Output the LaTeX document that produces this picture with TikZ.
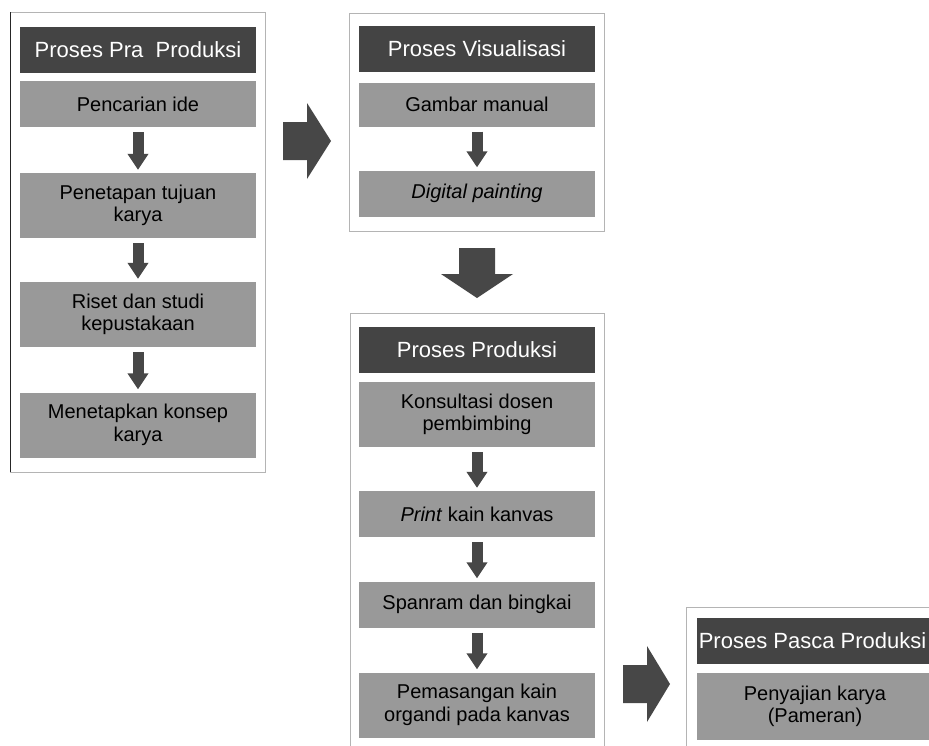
\documentclass[tikz,border=0pt]{standalone}
\usepackage{fontspec}
\setmainfont{Liberation Sans}
\usetikzlibrary{arrows.meta}
\definecolor{hdr}{HTML}{444444}
\definecolor{cell}{HTML}{999999}
\definecolor{arr}{HTML}{474747}
\definecolor{frame}{HTML}{B4B4B4}
\tikzset{
 hdrbox/.style={fill=hdr, text=white, minimum width=236pt, minimum height=46pt, inner sep=0pt, font=\fontsize{22}{26}\selectfont},
 cellbox/.style={fill=cell, text=black, minimum width=236pt, inner sep=0pt, align=center, font=\fontsize{20}{22.5}\selectfont},
 one/.style={minimum height=46pt},
 two/.style={minimum height=65pt},
 smallarr/.style={draw=arr, line width=11pt, -{Triangle[width=20pt,length=16pt]}, shorten <=5pt, shorten >=3pt},
 frm/.style={draw=frame, line width=1pt, fill=white},
 bigarr/.style={fill=arr},
}
\begin{document}
\begin{tikzpicture}[x=1pt,y=-1pt]
\useasboundingbox (0,0) rectangle (929,745);
\clip (0,0) rectangle (929,745);

% ---------- Pre-production ----------
\draw[frm] (10,12) rectangle (265,472);
\draw[black!85, line width=1pt] (10,12) -- (10,472);
\node[hdrbox] (pt) at (138,50) {Proses Pra~~Produksi};
\node[cellbox,one] (p1) at (138,104) {Pencarian ide};
\node[cellbox,two] (p2) at (138,205.5) {Penetapan tujuan\\karya};
\node[cellbox,two] (p3) at (138,314.5) {Riset dan studi\\kepustakaan};
\node[cellbox,two] (p4) at (138,425) {Menetapkan konsep\\karya};
\draw[smallarr] (p1) -- (p2);
\draw[smallarr] (p2) -- (p3);
\draw[smallarr] (p3) -- (p4);

% ---------- Visualisation ----------
\draw[frm] (349,13) rectangle (604,231);
\node[hdrbox] (vt) at (477,48.5) {Proses Visualisasi};
\node[cellbox,minimum height=44pt] (v1) at (477,104.5) {Gambar manual};
\node[cellbox,one] (v2) at (477,193.5) {\textit{Digital painting}};
\draw[smallarr] (v1) -- (v2);

% ---------- Production ----------
\draw[frm] (350,313) rectangle (604,770);
\node[hdrbox] (rt) at (477,350) {Proses Produksi};
\node[cellbox,two] (r1) at (477,414.5) {Konsultasi dosen\\pembimbing};
\node[cellbox,one] (r2) at (477,514) {\textit{Print} kain kanvas};
\node[cellbox,one] (r3) at (477,604.5) {Spanram dan bingkai};
\node[cellbox,two] (r4) at (477,705) {Pemasangan kain\\organdi pada kanvas};
\draw[smallarr] (r1) -- (r2);
\draw[smallarr] (r2) -- (r3);
\draw[smallarr] (r3) -- (r4);

% ---------- Post-production ----------
\draw[frm] (686,607) rectangle (960,770);
\node[hdrbox, minimum width=240pt, anchor=west, text=hdr] (st) at (697,641) {};
\node[text=white, font=\fontsize{22}{26}\selectfont, inner sep=0pt] (stt) at (812.5,641) {Proses Pasca Produksi};
\node[cellbox, minimum width=240pt, minimum height=67pt, anchor=west, text=cell] (s1) at (697,706.5) {};
\node[font=\fontsize{20}{22.5}\selectfont, align=center, inner sep=0pt] (s1t) at (815,706.5) {Penyajian karya\\(Pameran)};

% ---------- Big block arrows ----------
\coordinate (a1) at (283,141);
\fill[bigarr] (a1) ++(0,-19) -- ++(24,0) -- ++(0,-19) -- ++(24,38) -- ++(-24,38) -- ++(0,-19) -- ++(-24,0) -- cycle;
\coordinate (a2) at (477,248);
\fill[bigarr] (a2) ++(-18,0) -- ++(36,0) -- ++(0,26) -- ++(18,0) -- ++(-36,24) -- ++(-36,-24) -- ++(18,0) -- cycle;
\coordinate (a3) at (623,684);
\fill[bigarr] (a3) ++(0,-19) -- ++(24,0) -- ++(0,-19) -- ++(23,38) -- ++(-23,38) -- ++(0,-19) -- ++(-24,0) -- cycle;
\end{tikzpicture}
\end{document}
